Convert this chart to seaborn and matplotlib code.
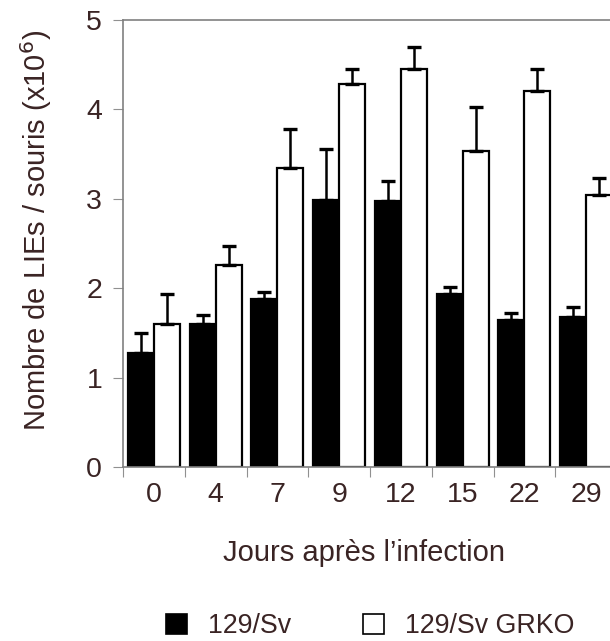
import matplotlib
matplotlib.use("Agg")
import matplotlib.pyplot as plt
from matplotlib.patches import Patch
import numpy as np
import pandas as pd
import seaborn as sns

# Values (x10^6 LIEs per mouse)
days = ["0", "4", "7", "9", "12", "15", "22", "29"]
wt_mean = [1.28, 1.60, 1.88, 2.99, 2.97, 1.94, 1.65, 1.68]
wt_err = [0.22, 0.10, 0.08, 0.57, 0.23, 0.07, 0.07, 0.11]
ko_mean = [1.60, 2.26, 3.35, 4.28, 4.45, 3.54, 4.21, 3.04]
ko_err = [0.34, 0.21, 0.43, 0.17, 0.25, 0.49, 0.24, 0.19]
groups = ["129/Sv", "129/Sv GRKO"]

text_col = "#3a2424"
fs = 20.5
sns.set_style("white")
plt.rcParams["font.family"] = ["Liberation Sans", "DejaVu Sans"]
plt.rcParams["text.color"] = text_col
plt.rcParams["axes.labelcolor"] = text_col

df = pd.DataFrame({
    "day": days * 2,
    "value": wt_mean + ko_mean,
    "group": [groups[0]] * len(days) + [groups[1]] * len(days),
})

fig = plt.figure(figsize=(6.10, 6.41), dpi=100)
ax = fig.add_axes([0.2016, 0.2714, 0.81, 0.6974])

sns.barplot(data=df, x="day", y="value", hue="group", order=days,
            hue_order=groups, palette=["black", "white"], edgecolor="black",
            linewidth=1.6, width=0.84, gap=0, errorbar=None, legend=False,
            ax=ax)

# one-sided (upper) error bars on each bar
errs = wt_err + ko_err
for bar, e in zip(ax.patches, errs):
    xc = bar.get_x() + bar.get_width() / 2
    h = bar.get_height()
    ax.errorbar(xc, h, yerr=[[0], [e]], fmt="none", ecolor="black",
                elinewidth=1.8, capsize=5, capthick=2.4, zorder=3)

ax.set_ylim(0, 5)
ax.set_xlim(-0.5, len(days) - 0.5)
ax.set_yticks(range(6))
ax.set_xticks(np.arange(len(days)) - 0.5, minor=True)
ax.tick_params(axis="x", which="major", length=0, pad=11, labelsize=fs,
               labelcolor=text_col)
ax.tick_params(axis="x", which="minor", length=7, width=0.8, color="#909090",
               direction="out", bottom=True)
ax.tick_params(axis="y", length=7, width=0.8, color="#909090", pad=8,
               labelsize=fs, labelcolor=text_col, left=True)

for side in ["left", "bottom", "top"]:
    ax.spines[side].set_color("#808080")
    ax.spines[side].set_linewidth(1.2)
ax.spines["right"].set_visible(False)

ax.set_xlabel("Jours après l\u2019infection", fontsize=21, labelpad=22)
ax.set_ylabel("Nombre de LIEs / souris (x10$^6$)", fontsize=21, labelpad=23)
ax.xaxis.label.set_x(0.488)
ax.yaxis.label.set_y(0.53)

handles = [Patch(facecolor="black", edgecolor="black", linewidth=1.2),
           Patch(facecolor="white", edgecolor="black", linewidth=1.2)]
fig.legend(handles, groups, loc="center", ncol=2, frameon=False,
           bbox_to_anchor=(370 / 610, 1 - 626 / 641), fontsize=19.3,
           handlelength=0.78, handleheight=0.78, handletextpad=0.78,
           columnspacing=2.7)

fig.savefig("out.png", dpi=100)
